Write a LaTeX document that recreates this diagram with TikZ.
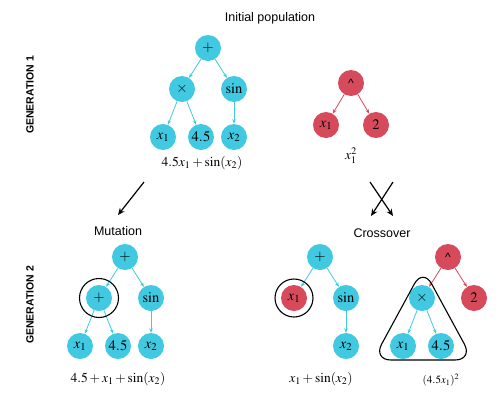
\documentclass[tikz,border=0pt]{standalone}
\usepackage{mathptmx}
\usepackage{fontspec}
\setsansfont{Liberation Sans}
\usetikzlibrary{positioning,arrows.meta}
\definecolor{Sky}{HTML}{41C9E2}
\definecolor{Rose}{HTML}{D64A5C}

\tikzset{
  gene/.style={circle,fill=Sky,minimum size=26pt,inner sep=0pt,font=\fontsize{14.5}{16}\selectfont},
  redgene/.style={gene,fill=Rose},
  link/.style={-{Stealth[length=4.5pt,width=3.5pt]},line width=0.8pt,Sky},
  redlink/.style={link,Rose},
  caption/.style={font=\sffamily\fontsize{12.5}{14}\selectfont},
  genlabel/.style={font=\sffamily\bfseries\fontsize{10.5}{12}\selectfont,rotate=90},
  formula/.style={font=\fontsize{13.5}{15}\selectfont},
  flow/.style={-{Stealth[length=7pt,width=6pt]},line width=1.2pt},
  ring/.style={draw,line width=1.1pt}
}
\newcommand{\caret}{{\sffamily\fontsize{12}{12}\selectfont\textasciicircum}}

\begin{document}
\begin{tikzpicture}[x=1pt,y=-1pt,node distance=41pt and 26pt,on grid]
  \useasboundingbox (0,0) rectangle (498,410);

  % side labels and captions
  \node[genlabel] (gen1) at (30,95) {GENERATION 1};
  \node[genlabel] (gen2) at (30,305) {GENERATION 2};
  \node[caption] (init) at (270,18) {Initial population};
  \node[caption] (mut) at (118,231) {Mutation};
  \node[caption] (cross) at (382,233) {Crossover};

  % generation 1, first parent
  \node[gene] (a) at (208,48) {$+$};
  \node[gene,below left=of a] (at) {$\times$};
  \node[gene,below right=of a] (as) {$\sin$};
  \node[gene,below left=48pt and 19pt of at] (ax) {$x_1$};
  \node[gene,below right=48pt and 19pt of at] (ac) {$4.5$};
  \node[gene,below=48pt of as] (ay) {$x_2$};
  \node[formula] (fa) at (202,163) {$4.5x_1+\sin(x_2)$};
  \draw[link] (a) -- (at);
  \draw[link] (a) -- (as);
  \draw[link] (at) -- (ax);
  \draw[link] (at) -- (ac);
  \draw[link] (as) -- (ay);

  % generation 1, second parent
  \node[redgene] (b) at (351,83) {\caret};
  \node[redgene,below left=42pt and 25pt of b] (bx) {$x_1$};
  \node[redgene,below right=42pt and 25pt of b] (bc) {$2$};
  \node[formula] (fb) at (351,156) {$x_1^2$};
  \draw[redlink] (b) -- (bx);
  \draw[redlink] (b) -- (bc);

  % operators
  \coordinate (m0) at (144,182);
  \coordinate (m1) at (118,215);
  \coordinate (c0) at (370,182);
  \coordinate (c1) at (393,216);
  \coordinate (c2) at (393,182);
  \coordinate (c3) at (371,216);
  \draw[flow] (m0) -- (m1);
  \draw[flow] (c0) -- (c1);
  \draw[flow] (c2) -- (c3);

  % generation 2, mutation
  \node[gene] (m) at (125,257) {$+$};
  \node[gene,below left=of m] (mp) {$+$};
  \node[gene,below right=of m] (ms) {$\sin$};
  \node[gene,below left=48pt and 19pt of mp] (mx) {$x_1$};
  \node[gene,below right=48pt and 19pt of mp] (mc) {$4.5$};
  \node[gene,below=48pt of ms] (my) {$x_2$};
  \node[formula] (fm) at (118,379) {$4.5+x_1+\sin(x_2)$};
  \draw[link] (m) -- (mp);
  \draw[link] (m) -- (ms);
  \draw[link] (mp) -- (mx);
  \draw[link] (mp) -- (mc);
  \draw[link] (ms) -- (my);
  \draw[ring] (mp.center) circle[radius=19.5pt];

  % generation 2, first child
  \node[gene] (p) at (320,257) {$+$};
  \node[redgene,below left=of p] (px) {$x_1$};
  \node[gene,below right=of p] (ps) {$\sin$};
  \node[gene,below=48pt of ps] (py) {$x_2$};
  \node[formula] (fp) at (321,379) {$x_1+\sin(x_2)$};
  \draw[link] (p) -- (px);
  \draw[link] (p) -- (ps);
  \draw[link] (ps) -- (py);
  \draw[ring] (px.center) circle[radius=19pt];

  % generation 2, second child
  \node[redgene] (q) at (448,257) {\caret};
  \node[gene,below left=of q] (qt) {$\times$};
  \node[redgene,below right=of q] (qc) {$2$};
  \node[gene,below left=48pt and 19pt of qt] (qx) {$x_1$};
  \node[gene,below right=48pt and 19pt of qt] (qd) {$4.5$};
  \node[formula,font=\fontsize{11}{12}\selectfont] (fq) at (441,380) {$(4.5x_1)^2$};
  \draw[redlink] (q) -- (qt);
  \draw[redlink] (q) -- (qc);
  \draw[link] (qt) -- (qx);
  \draw[link] (qt) -- (qd);
  \draw[ring,rounded corners=18pt] (423,268) -- (473,360) -- (373,360) -- cycle;
\end{tikzpicture}
\end{document}
